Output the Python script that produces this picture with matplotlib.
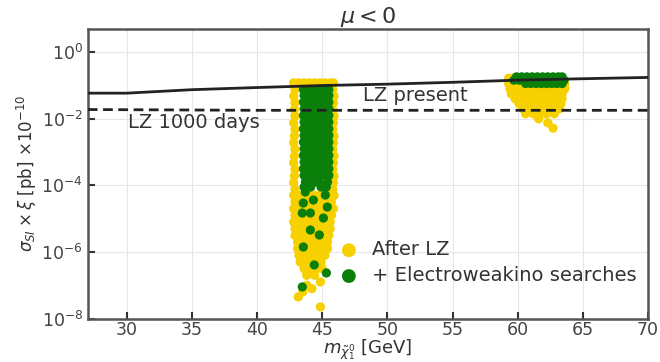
import numpy as np
import matplotlib
matplotlib.use('Agg')
from matplotlib import pyplot as plt

# LZ limits, sigma_SI x xi in units of 1e-10 pb
lz_mass = [27, 30, 35, 40, 45, 50, 55, 60, 65, 70]
lz_present = [0.059, 0.059, 0.075, 0.087, 0.100, 0.110, 0.125, 0.145, 0.160, 0.175]
lz1000_mass = [27, 40, 55, 70]
lz1000 = [0.019, 0.018, 0.018, 0.018]

# scan points, grouped by row: (log10 sigma, [neutralino masses])
after_lz_rows = [
    (-0.92, [42.8, 43.2, 43.6, 44.0, 44.4, 44.8, 45.2, 45.6, 45.85]),
    (-1.12, [42.9, 45.8]), (-1.32, [42.8, 45.9]), (-1.52, [42.9, 45.85]),
    (-1.72, [42.85, 45.8]), (-1.92, [42.9, 45.9]), (-2.12, [42.8, 45.85]),
    (-2.32, [42.9, 45.8]), (-2.52, [42.85, 45.9]), (-2.72, [42.8, 45.85]),
    (-2.92, [42.9, 45.8]), (-3.12, [42.85, 45.9]), (-3.32, [42.8, 45.85]),
    (-3.52, [42.9, 45.8]), (-3.72, [42.85, 45.9]), (-3.92, [42.8, 45.85]),
    (-4.12, [42.9, 45.8]),
    (-4.3, [42.8, 43.2, 43.6, 44.0, 44.4, 44.8, 45.2, 45.6, 45.9]),
    (-4.5, [42.9, 43.3, 43.7, 44.1, 44.5, 44.9, 45.3, 45.7]),
    (-4.7, [42.8, 43.2, 43.6, 44.0, 44.4, 44.8, 45.2, 45.6, 45.85]),
    (-4.9, [42.9, 43.3, 43.7, 44.1, 44.5, 44.9, 45.3, 45.7]),
    (-5.1, [42.8, 43.2, 43.6, 44.0, 44.4, 44.8, 45.2, 45.6]),
    (-5.3, [42.9, 43.3, 43.7, 44.1, 44.5, 44.9, 45.3, 45.6]),
    (-5.5, [42.9, 43.2, 43.6, 44.0, 44.4, 44.8, 45.2, 45.5]),
    (-5.7, [43.1, 43.5, 43.9, 44.3, 44.7, 45.1, 45.4]),
    (-5.9, [43.1, 43.4, 43.8, 44.2, 44.6, 45.0, 45.4]),
    (-6.1, [43.2, 43.6, 44.0, 44.4, 44.8, 45.2]),
    (-6.3, [43.3, 43.7, 44.1, 44.5, 44.9]),
    (-6.5, [43.6, 44.0, 44.6, 45.0]),
    (-6.7, [43.8, 44.4]),
    (-6.9, [44.85]), (-7.0, [43.8]), (-7.1, [44.2]), (-7.2, [43.5]),
    (-7.35, [43.15]), (-7.65, [44.85]),
    # second island near 60 GeV
    (-0.78, [59.3, 59.6]),
    (-0.95, [59.3, 59.7, 60.1, 60.5, 60.9, 61.3, 61.7, 62.1, 62.5, 62.9, 63.3, 63.6]),
    (-1.1, [59.4, 59.8, 60.2, 60.6, 61.0, 61.4, 61.8, 62.2, 62.6, 63.0, 63.4, 63.6]),
    (-1.25, [59.5, 59.9, 60.3, 60.7, 61.1, 61.5, 61.9, 62.3, 62.7, 63.1, 63.4]),
    (-1.4, [59.8, 60.2, 60.6, 61.0, 61.4, 61.8, 62.2, 62.6, 63.0, 63.4]),
    (-1.55, [60.1, 60.5, 60.9, 61.3, 61.7, 62.1, 62.5, 62.9, 63.3]),
    (-1.7, [60.4, 60.8, 61.2, 61.6, 62.0, 62.4, 62.8, 63.2]),
    (-1.85, [60.6, 61.2, 61.7, 62.2, 62.8]),
    (-2.0, [61.6]), (-2.12, [62.3]), (-2.28, [62.7]),
]

ewkino_rows = [
    (-1.12, [43.55, 43.95, 44.35, 44.75, 45.15, 45.5]),
    (-1.3, [43.6, 44.0, 44.4, 44.8, 45.2, 45.5]),
    (-1.5, [43.55, 43.95, 44.35, 44.75, 45.15, 45.5]),
    (-1.7, [43.6, 44.0, 44.4, 44.8, 45.2, 45.5]),
    (-1.9, [43.55, 43.95, 44.35, 44.75, 45.15, 45.5]),
    (-2.1, [43.6, 44.0, 44.4, 44.8, 45.2, 45.5]),
    (-2.3, [43.55, 43.95, 44.35, 44.75, 45.15, 45.5]),
    (-2.5, [43.6, 44.0, 44.4, 44.8, 45.2, 45.5]),
    (-2.7, [43.55, 43.95, 44.35, 44.75, 45.15, 45.5]),
    (-2.9, [43.6, 44.0, 44.4, 44.8, 45.2, 45.5]),
    (-3.1, [43.55, 43.95, 44.35, 44.75, 45.15, 45.5]),
    (-3.3, [43.6, 44.0, 44.4, 44.8, 45.2, 45.5]),
    (-3.5, [43.55, 43.95, 44.35, 44.75, 45.15, 45.5]),
    (-3.7, [43.6, 44.0, 44.4, 44.8, 45.2, 45.5]),
    (-3.9, [43.7, 43.95, 44.5, 44.75, 45.4]),
    (-4.05, [43.6, 44.1, 44.9, 45.3]),
    (-4.2, [43.69]), (-4.29, [45.23]), (-4.44, [44.31]), (-4.53, [43.54]),
    (-4.65, [45.38]), (-4.83, [43.46, 44.08]), (-4.98, [45.08]),
    (-5.34, [44.08]), (-5.49, [44.77]), (-5.85, [43.54]), (-6.39, [44.38]),
    (-6.63, [45.31]), (-7.05, [43.46]),
    # second island near 60 GeV
    (-0.74, [59.9, 60.3, 60.7, 61.1, 61.5, 61.9, 62.3, 62.7, 63.1, 63.4]),
    (-0.84, [59.7, 60.1, 60.5, 60.9, 61.3, 61.7, 62.1, 62.5, 62.9, 63.3, 63.55]),
    (-0.94, [60.6, 61.0, 61.4, 61.8, 62.2, 62.6, 63.0, 63.4]),
]


def unpack(rows):
    m = [x for logs, xs in rows for x in xs]
    s = [10.0 ** logs for logs, xs in rows for x in xs]
    return m, s


after_m, after_s = unpack(after_lz_rows)
ew_m, ew_s = unpack(ewkino_rows)

fig = plt.figure(figsize=(6.6, 3.62), dpi=100)
ax = fig.add_axes([0.133, 0.12, 0.849, 0.80])

ax.scatter(after_m, after_s, s=44, color='#f7d000', edgecolors='none', label='After LZ', zorder=2)
ax.scatter(ew_m, ew_s, s=44, color='#0a7f0a', edgecolors='none', label='+ Electroweakino searches', zorder=3)

ax.plot(lz_mass, lz_present, color='#222222', linewidth=2.0, zorder=4)
ax.plot(lz1000_mass, lz1000, color='#222222', linewidth=2.0, linestyle=(0, (3.5, 2)), zorder=4)

ax.text(48.1, 10 ** -1.29, 'LZ present', fontsize=14, color='#333333', va='center')
ax.text(30.1, 10 ** -2.1, 'LZ 1000 days', fontsize=14, color='#333333', va='center')

ax.set_yscale('log')
ax.set_xlim(27, 70)
ax.set_ylim(1e-8, 5)
ax.set_xticks([30, 35, 40, 45, 50, 55, 60, 65, 70])
ax.set_yticks([1e-8, 1e-6, 1e-4, 1e-2, 1e0])
ax.yaxis.set_minor_locator(matplotlib.ticker.NullLocator())
ax.tick_params(direction='in', length=5, width=1.5, labelsize=12.5, colors='#333333', labelcolor='#444444')
ax.tick_params(axis='x', pad=2)
ax.grid(True, color='#e6e6e6', linewidth=0.8, zorder=0)
ax.set_axisbelow(True)
for sp in ax.spines.values():
    sp.set_linewidth(1.8)
    sp.set_color('#555555')

ax.set_title(r'$\mu < 0$', fontsize=16, color='#333333', pad=3)
ax.set_xlabel(r'$m_{\tilde{\chi}_1^0}$ [GeV]', fontsize=13, color='#333333', labelpad=-1)
ax.set_ylabel(r'$\sigma_{SI} \times \xi$ [pb] $\times 10^{-10}$', fontsize=12, color='#333333', labelpad=2)

ax.legend(loc='lower left', bbox_to_anchor=(0.40, 0.055), frameon=False, fontsize=14,
          markerscale=1.5, handletextpad=0.2, labelspacing=0.35, labelcolor='#333333')

fig.savefig('out.png', dpi=100)
